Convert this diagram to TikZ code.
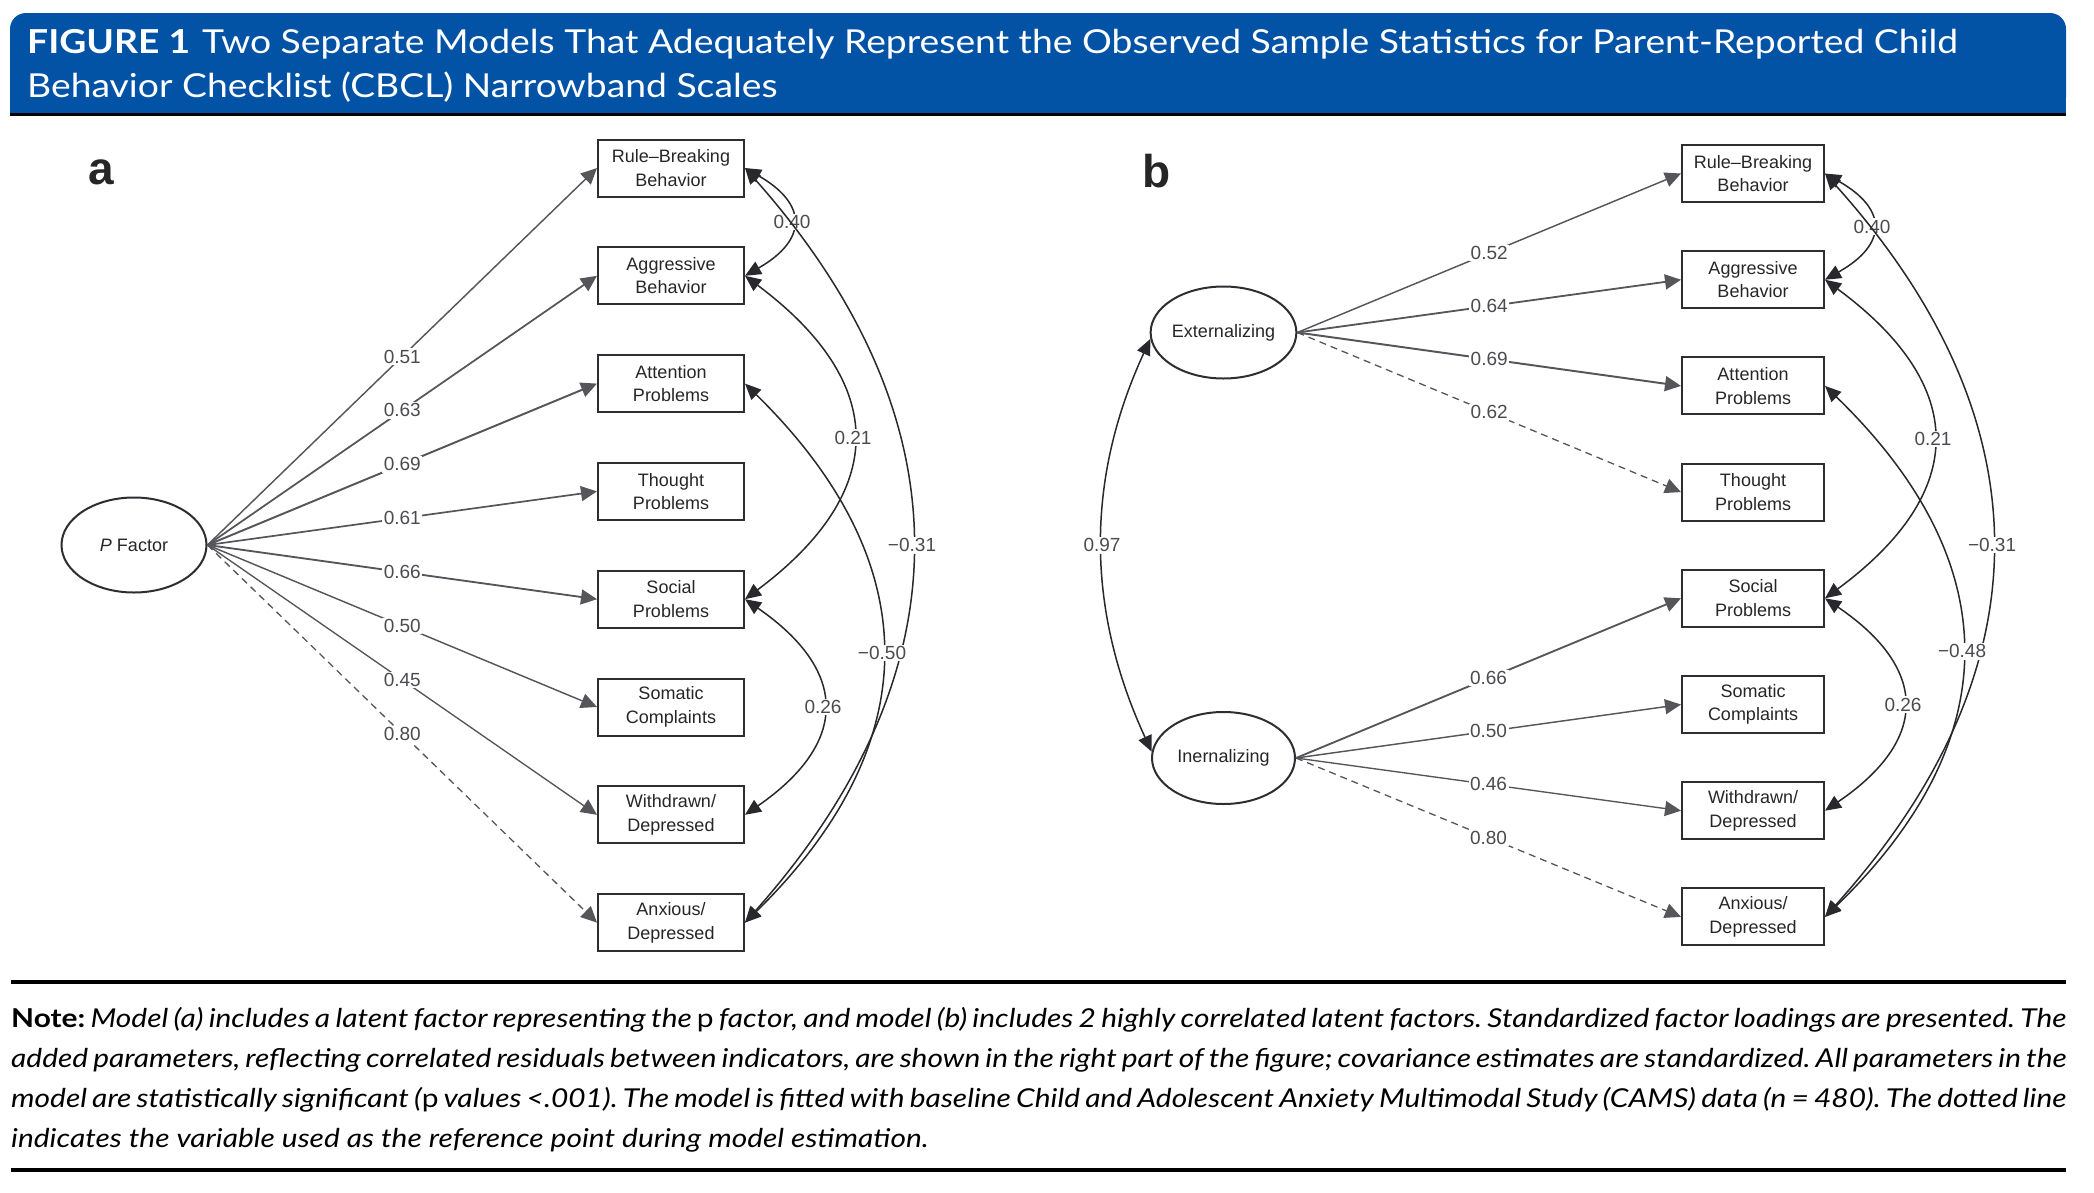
\documentclass[tikz,border=0pt]{standalone}
\usepackage{fontspec}
\setmainfont{Lato}
\newfontfamily\titlefont[FakeStretch=1.13]{Lato}
\newfontfamily\notefont[FakeStretch=1.15]{Lato}
\newfontfamily\semfont{Liberation Sans}
\usetikzlibrary{arrows.meta,shapes.geometric}
\definecolor{bannerblue}{RGB}{2,82,166}
\definecolor{loadc}{RGB}{85,85,90}
\definecolor{covc}{RGB}{40,40,45}
\definecolor{boxc}{RGB}{45,45,50}
\definecolor{lblc}{RGB}{75,75,80}
\frenchspacing
\begin{document}
\begin{tikzpicture}[x=1pt,y=-1pt,
  obs/.style={draw=boxc, line width=2pt, minimum width=146pt, minimum height=57pt, inner sep=0pt, align=center, text=black!85, font=\semfont\fontsize{18}{23.5}\selectfont},
  obsb/.style={obs, minimum width=142pt},
  lat/.style={ellipse, draw=boxc, line width=2pt, minimum width=145pt, minimum height=95pt, inner sep=0pt, text=black!85, font=\semfont\fontsize{18}{23.5}\selectfont},
  latb/.style={lat, minimum width=143pt, minimum height=92pt},
  lbl/.style={fill=white, inner sep=1.5pt, font=\semfont\fontsize{19}{21}\selectfont, text=lblc},
  load/.style={draw=loadc, line width=#1, -{Triangle[length=16pt,width=15pt]}},
  load/.default=1.8pt,
  refload/.style={load=1.3pt, dash pattern=on 7pt off 5pt},
  cov/.style={draw=covc, line width=1.5pt, {Triangle[length=16pt,width=14pt]}-{Triangle[length=16pt,width=14pt]}},
  panel/.style={font=\semfont\bfseries\fontsize{46}{46}\selectfont, inner sep=0pt, text=black!85},
  title/.style={text=white, anchor=base west, inner sep=0pt, font=\titlefont\fontsize{33}{36}\selectfont},
  note/.style={anchor=base west, inner sep=0pt, font=\notefont\itshape\fontsize{26}{30}\selectfont\frenchspacing},
  rulel/.style={line width=3.3pt, draw=black}
]
\useasboundingbox (0,0) rectangle (2094,1192);

% ---------- title banner ----------
\fill[bannerblue, rounded corners=16pt] (10,113) -- (10,13) -- (2066,13) -- (2066,113) -- cycle;
\fill[bannerblue] (10,60) rectangle (2066,113);
\coordinate (bl) at (10,114.5);
\coordinate (br) at (2066,114.5);
\draw[line width=3pt] (bl) -- (br);
\node[title] (t1) at (27,53) {{\bfseries FIGURE 1}\hspace{12pt}Two Separate Models That Adequately Represent the Observed Sample Statistics for Parent-Reported Child};
\node[title] (t2) at (27,97) {Behavior Checklist (CBCL) Narrowband Scales};

% ---------- panel a ----------
\node[panel] (la) at (101,172) {a};
\node[lat] (pf) at (134,545) {\textit{P} Factor};
\node[obs] (a1) at (671,168.0) {Rule–Breaking\\Behavior};
\node[obs] (a2) at (671,275.8) {Aggressive\\Behavior};
\node[obs] (a3) at (671,383.6) {Attention\\Problems};
\node[obs] (a4) at (671,491.4) {Thought\\Problems};
\node[obs] (a5) at (671,599.2) {Social\\Problems};
\node[obs] (a6) at (671,707.0) {Somatic\\Complaints};
\node[obs] (a7) at (671,814.8) {Withdrawn/\\Depressed};
\node[obs] (a8) at (671,922.6) {Anxious/\\Depressed};

\draw[load=1.45pt] (pf.east) -- node[lbl]{0.51} (a1.west);
\draw[load=1.75pt] (pf.east) -- node[lbl]{0.63} (a2.west);
\draw[load=1.95pt] (pf.east) -- node[lbl]{0.69} (a3.west);
\draw[load=1.7pt] (pf.east) -- node[lbl]{0.61} (a4.west);
\draw[load=1.85pt] (pf.east) -- node[lbl]{0.66} (a5.west);
\draw[load=1.45pt] (pf.east) -- node[lbl]{0.50} (a6.west);
\draw[load=1.35pt] (pf.east) -- node[lbl]{0.45} (a7.west);
\draw[refload] (pf.east) -- node[lbl]{0.80} (a8.west);

\draw[cov] (a1.east) .. controls +(62.7,36) and +(62.7,-36) .. node[lbl]{0.40} (a2.east);
\draw[cov] (a2.east) .. controls +(144,107.7) and +(144,-107.7) .. node[lbl]{0.21} (a5.east);
\draw[cov] (a1.east) .. controls +(222.7,251.3) and +(222.7,-251.3) .. node[lbl]{−0.31} (a8.east);
\draw[cov] (a5.east) .. controls +(104,72) and +(104,-72) .. node[lbl]{0.26} (a7.east);
\draw[cov] (a3.east) .. controls +(182.7,179.3) and +(182.7,-179.3) .. node[lbl]{−0.50} (a8.east);

% ---------- panel b ----------
\node[panel] (lb) at (1157,171) {b};
\node[latb] (ext) at (1223.5,332.5) {Externalizing};
\node[latb] (int) at (1223.5,758) {Inernalizing};
\node[obsb] (b1) at (1753,173.5) {Rule–Breaking\\Behavior};
\node[obsb] (b2) at (1753,279.7) {Aggressive\\Behavior};
\node[obsb] (b3) at (1753,385.9) {Attention\\Problems};
\node[obsb] (b4) at (1753,492.1) {Thought\\Problems};
\node[obsb] (b5) at (1753,598.3) {Social\\Problems};
\node[obsb] (b6) at (1753,704.5) {Somatic\\Complaints};
\node[obsb] (b7) at (1753,810.7) {Withdrawn/\\Depressed};
\node[obsb] (b8) at (1753,916.9) {Anxious/\\Depressed};

\draw[load=1.45pt] (ext.east) -- node[lbl]{0.52} (b1.west);
\draw[load=1.8pt] (ext.east) -- node[lbl]{0.64} (b2.west);
\draw[load=1.95pt] (ext.east) -- node[lbl]{0.69} (b3.west);
\draw[refload] (ext.east) -- node[lbl]{0.62} (b4.west);
\draw[load=1.85pt] (int.east) -- node[lbl]{0.66} (b5.west);
\draw[load=1.45pt] (int.east) -- node[lbl]{0.50} (b6.west);
\draw[load=1.35pt] (int.east) -- node[lbl]{0.46} (b7.west);
\draw[refload] (int.east) -- node[lbl]{0.80} (b8.west);

\draw[cov] (ext.185) .. controls +(-65.3,141.8) and +(-65.3,-141.8) .. node[lbl]{0.97} (int.175);
\draw[cov] (b1.east) .. controls +(62.7,35.5) and +(62.7,-35.5) .. node[lbl]{0.40} (b2.east);
\draw[cov] (b2.east) .. controls +(144,106.2) and +(144,-106.2) .. node[lbl]{0.21} (b5.east);
\draw[cov] (b1.east) .. controls +(222.7,247.8) and +(222.7,-247.8) .. node[lbl]{−0.31} (b8.east);
\draw[cov] (b5.east) .. controls +(104,70.7) and +(104,-70.7) .. node[lbl]{0.26} (b7.east);
\draw[cov] (b3.east) .. controls +(182.7,177) and +(182.7,-177) .. node[lbl]{−0.48} (b8.east);

% ---------- note ----------
\coordinate (r1l) at (11,982);
\coordinate (r1r) at (2066,982);
\coordinate (r2l) at (11,1170);
\coordinate (r2r) at (2066,1170);
\draw[rulel] (r1l) -- (r1r);
\draw[rulel] (r2l) -- (r2r);
\node[note] (n1) at (11,1027) {\makebox[2055pt][s]{{\upshape\bfseries Note:} Model (a) includes a latent factor representing the {\upshape p} factor, and model (b) includes 2 highly correlated latent factors. Standardized factor loadings are presented. The}};
\node[note] (n2) at (11,1067) {\makebox[2055pt][s]{added parameters, reflecting correlated residuals between indicators, are shown in the right part of the figure; covariance estimates are standardized. All parameters in the}};
\node[note] (n3) at (11,1107) {\makebox[2055pt][s]{model are statistically significant ({\upshape p} values <.001). The model is fitted with baseline Child and Adolescent Anxiety Multimodal Study (CAMS) data (\textit{n} = 480). The dotted line}};
\node[note] (n4) at (11,1147) {indicates the variable used as the reference point during model estimation.};
\end{tikzpicture}
\end{document}
